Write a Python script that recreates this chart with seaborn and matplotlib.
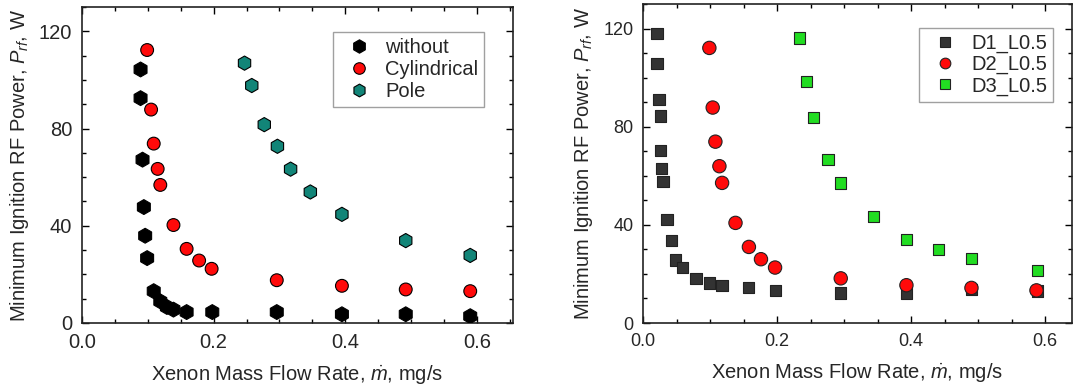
import numpy as np
import pandas as pd
import matplotlib
matplotlib.use("Agg")
import matplotlib.pyplot as plt
import seaborn as sns
from matplotlib.ticker import MultipleLocator

# ---------------- data ----------------
# left panel
without_x = [0.089, 0.089, 0.092, 0.094, 0.096, 0.099, 0.109, 0.119, 0.129, 0.139, 0.159, 0.198, 0.296, 0.395, 0.492, 0.590]
without_y = [104.3, 92.5, 67.2, 47.7, 35.9, 26.7, 13.1, 8.9, 6.6, 5.5, 4.5, 4.5, 4.5, 3.6, 3.6, 2.8]
cyl_x = [0.099, 0.105, 0.109, 0.115, 0.119, 0.139, 0.159, 0.178, 0.197, 0.296, 0.395, 0.492, 0.590]
cyl_y = [112.3, 87.8, 73.8, 63.4, 56.8, 40.3, 30.5, 25.7, 22.3, 17.6, 15.3, 13.8, 13.1]
pole_x = [0.247, 0.258, 0.277, 0.297, 0.317, 0.347, 0.395, 0.492, 0.590]
pole_y = [106.9, 97.7, 81.6, 72.7, 63.3, 53.9, 44.7, 33.9, 27.8]
left_labels = ["without", "Cylindrical", "Pole"]

# right panel
d1_x = [0.021, 0.021, 0.024, 0.026, 0.026, 0.028, 0.030, 0.036, 0.042, 0.049, 0.059, 0.079, 0.099, 0.118, 0.157, 0.198, 0.295, 0.393, 0.490, 0.588]
d1_y = [118.0, 105.7, 91.1, 84.4, 70.3, 62.9, 57.8, 42.1, 33.6, 25.7, 22.7, 18.2, 16.3, 15.2, 14.4, 13.2, 12.2, 12.2, 13.6, 13.0]
d2_x = [0.099, 0.104, 0.108, 0.114, 0.118, 0.138, 0.158, 0.176, 0.197, 0.295, 0.393, 0.490, 0.587]
d2_y = [112.1, 87.8, 73.9, 63.9, 57.1, 40.8, 31.0, 26.0, 22.6, 18.2, 15.4, 14.3, 13.3]
d3_x = [0.234, 0.244, 0.254, 0.276, 0.295, 0.344, 0.393, 0.441, 0.490, 0.588]
d3_y = [116.2, 98.3, 83.7, 66.6, 57.1, 43.5, 34.1, 29.9, 26.2, 21.5]
right_labels = ["D1_L0.5", "D2_L0.5", "D3_L0.5"]

x_ticks = [0.0, 0.2, 0.4, 0.6]
x_ticklabels = ["0.0", "0.2", "0.4", "0.6"]
y_ticks = [0, 40, 80, 120]

# ---------------- style ----------------
sns.set_style("ticks")
plt.rcParams["font.family"] = ["Liberation Sans", "DejaVu Sans"]
plt.rcParams["mathtext.fontset"] = "custom"
plt.rcParams["mathtext.rm"] = "Liberation Sans"
plt.rcParams["mathtext.it"] = "Liberation Sans:italic"
plt.rcParams["mathtext.bf"] = "Liberation Sans:bold"

fig = plt.figure(figsize=(10.75, 3.9), dpi=100)
axL = fig.add_axes([82 / 1075, 1 - 323 / 390, 431 / 1075, 316 / 390])
axR = fig.add_axes([643 / 1075, 1 - 323 / 390, 429 / 1075, 319 / 390])

left_df = pd.concat([
    pd.DataFrame({"x": without_x, "y": without_y, "series": left_labels[0]}),
    pd.DataFrame({"x": cyl_x, "y": cyl_y, "series": left_labels[1]}),
    pd.DataFrame({"x": pole_x, "y": pole_y, "series": left_labels[2]}),
], ignore_index=True)
right_df = pd.concat([
    pd.DataFrame({"x": d1_x, "y": d1_y, "series": right_labels[0]}),
    pd.DataFrame({"x": d2_x, "y": d2_y, "series": right_labels[1]}),
    pd.DataFrame({"x": d3_x, "y": d3_y, "series": right_labels[2]}),
], ignore_index=True)

sns.scatterplot(data=left_df, x="x", y="y", hue="series", style="series", size="series",
                palette={"without": "#000000", "Cylindrical": "#ff0a0a", "Pole": "#128578"},
                markers={"without": "h", "Cylindrical": "o", "Pole": "h"},
                sizes={"without": 115, "Cylindrical": 85, "Pole": 105},
                edgecolor="black", linewidth=0.8, ax=axL, zorder=3)
sns.scatterplot(data=right_df, x="x", y="y", hue="series", style="series", size="series",
                palette={"D1_L0.5": "#333333", "D2_L0.5": "#ff0a0a", "D3_L0.5": "#22dd22"},
                markers={"D1_L0.5": "s", "D2_L0.5": "o", "D3_L0.5": "s"},
                sizes={"D1_L0.5": 66, "D2_L0.5": 92, "D3_L0.5": 66},
                edgecolor="#222222", linewidth=0.8, ax=axR, zorder=3)

ylab = "Minimum Ignition RF Power, $P_{rf}$, W"
xlab = r"Xenon Mass Flow Rate, $\dot{m}$, mg/s"

for ax, xmax, fs_tick, fs_lab in [(axL, 0.655, 14.5, 14.5), (axR, 0.64, 13, 14.5)]:
    ax.set_xlim(0, xmax)
    ax.set_ylim(0, 130)
    ax.set_xticks(x_ticks)
    ax.set_xticklabels(x_ticklabels)
    ax.set_yticks(y_ticks)
    ax.xaxis.set_minor_locator(MultipleLocator(0.05))
    ax.yaxis.set_minor_locator(MultipleLocator(10))
    ax.tick_params(which="both", direction="in", top=True, right=True, color="black", width=1)
    ax.tick_params(which="major", length=5, labelsize=fs_tick, pad=7)
    ax.tick_params(which="minor", length=3)
    for s in ax.spines.values():
        s.set_color("#222222")
        s.set_linewidth(1.2)
    ax.set_xlabel(xlab, fontsize=fs_lab, labelpad=8)
    ax.set_ylabel(ylab, fontsize=fs_lab, labelpad=6)
    ax.set_facecolor("white")

hL, lL = axL.get_legend_handles_labels()
axL.legend(hL, lL, loc="upper right", bbox_to_anchor=(0.933, 0.921), borderaxespad=0,
           fontsize=14.5, frameon=True, fancybox=False, edgecolor="#888888",
           handletextpad=0.3, labelspacing=0.15, borderpad=0.3, markerscale=0.9)
hR, lR = axR.get_legend_handles_labels()
axR.legend(hR, lR, loc="upper right", bbox_to_anchor=(0.956, 0.925), borderaxespad=0,
           fontsize=14.5, frameon=True, fancybox=False, edgecolor="#888888",
           handletextpad=0.3, labelspacing=0.1, borderpad=0.3, markerscale=0.8)

fig.savefig("out.png", dpi=100, facecolor="white")
